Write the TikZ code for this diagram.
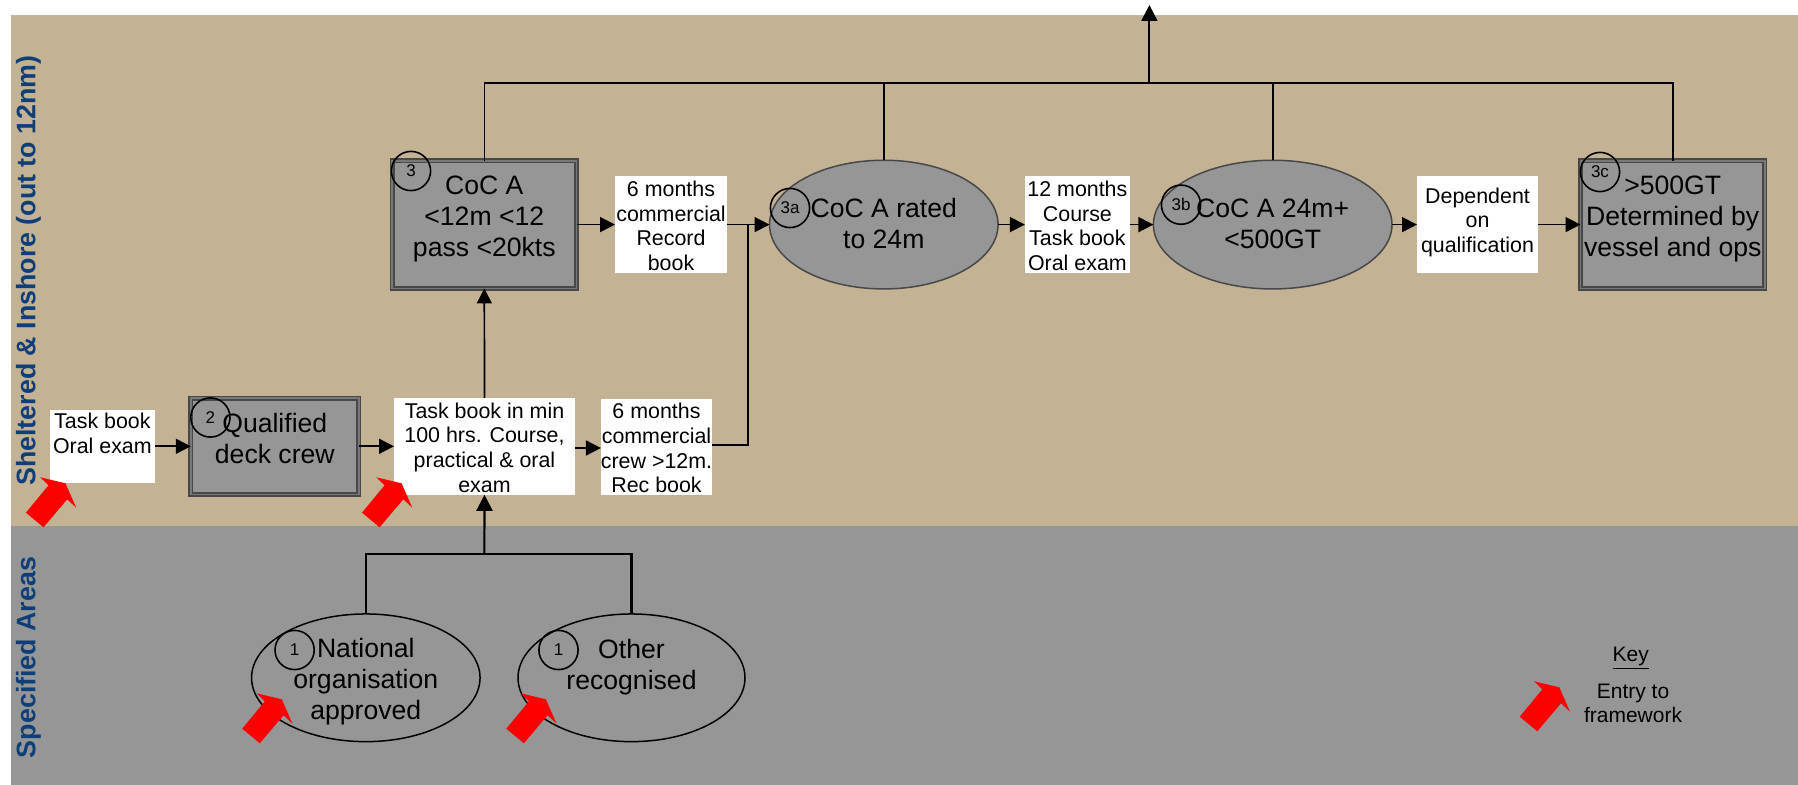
\documentclass[tikz,border=0pt]{standalone}
\usepackage{fontspec}
\setmainfont{Liberation Sans}
\usetikzlibrary{arrows.meta,shapes.geometric}
\definecolor{tanband}{HTML}{C4B295}
\definecolor{greyband}{HTML}{969696}
\definecolor{edge}{HTML}{484848}
\definecolor{sidelabel}{HTML}{0F3F78}
\newcommand\txt[2]{\smash{\raisebox{\dimexpr #1\dimexpr.5pt\relax-.37em\relax}{\begin{tabular}{@{}c@{}}#2\end{tabular}}}}
\tikzset{
  wh/.style 2 args={minimum width=#1*0.5pt,minimum height=#2*0.5pt},
  smalltext/.style={font=\fontsize{10.7}{12.35}\selectfont},
  bigtext/.style={font=\fontsize{13.3}{15.4}\selectfont},
  whitebox/.style={rectangle,fill=white,inner sep=0pt,outer sep=0pt,smalltext},
  dblbox/.style={rectangle,draw=edge,line width=.8pt,double=greyband!80!black,double distance=.9pt,fill=greyband,inner sep=0pt,outer sep=0pt,bigtext},
  greyell/.style={ellipse,draw=edge,line width=.75pt,fill=greyband,inner sep=0pt,outer sep=0pt,bigtext},
  openell/.style={ellipse,draw=black,line width=.75pt,inner sep=0pt,outer sep=0pt,bigtext},
  numcirc/.style={circle,draw=black,line width=.8pt,minimum size=19.6pt,inner sep=0pt,font=\fontsize{8.5}{9}\selectfont},
  link/.style={draw=black,line width=.8pt},
  boldlink/.style={draw=black,line width=1.05pt},
  arr/.style={draw=black,line width=.85pt,-{Triangle[length=7.5pt,width=7.5pt]}},
  bigarr/.style={draw=black,line width=1.05pt,-{Triangle[length=8pt,width=8pt]}},
  entry/.style={fill=red},
  sidetext/.style={rotate=90,text=sidelabel,font=\fontsize{13.4}{15}\selectfont\bfseries,inner sep=0pt},
  keytext/.style={font=\fontsize{10.5}{12}\selectfont,inner sep=0pt,text=black},
}
\newcommand\entryarrow[2]{\fill[entry,shift={(#1,#2)}] (1534,681.3) -- (1559.3,687.3) -- (1570,711.7) -- (1561,703.3) -- (1537.3,731.3) -- (1519.7,716.7) -- (1542.3,689.3) -- cycle;}
\begin{document}
\begin{tikzpicture}[x=0.5pt,y=-0.5pt]
\useasboundingbox (0,0) rectangle (1798,785);
\fill[tanband] (11,15) rectangle (1798,526);
\fill[greyband] (11,526) rectangle (1798,785);
\node[sidetext] (shelt) at (28.5,270.5) {Sheltered \& Inshore (out to 12nm)};
\node[sidetext] (spec) at (28.5,657.5) {Specified Areas};
% text boxes
\node[whitebox,wh={105.2}{72.7}] (tb) at (102.4,446.3) {\txt{0}{Task book\\Oral exam\\~}};
\node[whitebox,wh={181}{97}] (tm) at (484.5,446.3) {\txt{-1.5}{Task book in min\\100 hrs. Course,\\practical \& oral\\exam}};
\node[whitebox,wh={111}{96}] (crew) at (656.5,447) {\txt{-1.5}{6 months\\commercial\\crew >12m.\\Rec book}};
\node[whitebox,wh={112}{96.7}] (comm) at (671,224.6) {\txt{-1.5}{6 months\\commercial\\Record\\book}};
\node[whitebox,wh={105}{96.7}] (twelve) at (1077.4,224.6) {\txt{-1.5}{12 months\\Course\\Task book\\Oral exam}};
\node[whitebox,wh={121}{96.7}] (dep) at (1477.5,224.6) {\txt{4}{Dependent\\on\\qualification}};
% double boxes
\node[dblbox,wh={168}{96.4}] (qual) at (274.8,446.3) {\txt{7}{Qualified\\deck crew}};
\node[dblbox,wh={184.4}{127.7}] (coc) at (484.3,224.6) {\txt{7.7}{CoC A\\<12m <12\\pass <20kts}};
\node[dblbox,wh={184.4}{127.7}] (big) at (1672.7,224.6) {\txt{7.7}{>500GT\\Determined by\\vessel and ops}};
% ellipses
\node[greyell,wh={228.5}{128.7}] (ea) at (883.8,224.6) {\txt{0}{CoC A rated\\to 24m}};
\node[greyell,wh={238.6}{128.7}] (eb) at (1272.7,224.6) {\txt{0}{CoC A 24m+\\<500GT}};
\node[openell,wh={228.5}{127.7}] (nat) at (365.8,677.8) {\txt{-2}{National\\organisation\\approved}};
\node[openell,wh={227}{127.7}] (oth) at (631.5,677.8) {\txt{12.5}{Other\\recognised}};
% number circles
\node[numcirc] (n2) at (210.4,417.5) {2};
\node[numcirc] (n3) at (411,171) {3};
\node[numcirc] (n3a) at (790,208) {3a};
\node[numcirc] (n3b) at (1181,204.7) {3b};
\node[numcirc] (n3c) at (1600,172) {3c};
\node[numcirc] (n1a) at (294.6,650) {1};
\node[numcirc] (n1b) at (558.5,650) {1};
% junctions
\coordinate (busbot) at (484.4,554);
\coordinate (bustop) at (1149.4,83);
\coordinate (joint) at (748,224.6);
\coordinate (corner) at (748,445);
\coordinate (topend) at (1149.4,5);
% connectors
\draw[arr] (tb.east) -- (qual.west);
\draw[arr] (qual.east) -- (tm.west);
\draw[arr] ([yshift=-.85pt]tm.east) -- ([yshift=-.5pt]crew.west);
\draw[arr] (tm.north) -- (coc.south);
\draw[arr] (coc.east) -- (comm.west);
\draw[arr] (comm.east) -- (ea.west);
\draw[link] (crew.east |- corner) -- (corner) -- (joint);
\draw[arr] (ea.east) -- (twelve.west);
\draw[arr] (twelve.east) -- (eb.west);
\draw[arr] (eb.east) -- (dep.west);
\draw[arr] (dep.east) -- (big.west);
\draw[boldlink] (nat.north) |- (busbot) -| (oth.north);
\draw[bigarr] (busbot) -- (tm.south);
\draw[link] (coc.north) |- (bustop);
\draw[link] (ea.north) |- (bustop);
\draw[link] (eb.north) |- (bustop);
\draw[link] (big.north) |- (bustop);
\draw[boldlink] (coc.north |- bustop) -- (eb.north |- bustop);
\draw[bigarr] (bustop) -- (topend);
% entry arrows
\entryarrow{-1493.8}{-204}
\entryarrow{-1157.7}{-204}
\entryarrow{-1277.5}{12}
\entryarrow{-1013.4}{12}
\entryarrow{0}{0}
% key
\node[keytext] (keyh) at (1630.7,658) {\underline{Key}};
\node[keytext,align=center] (keyl) at (1633,703) {Entry to\\framework};
\end{tikzpicture}
\end{document}
